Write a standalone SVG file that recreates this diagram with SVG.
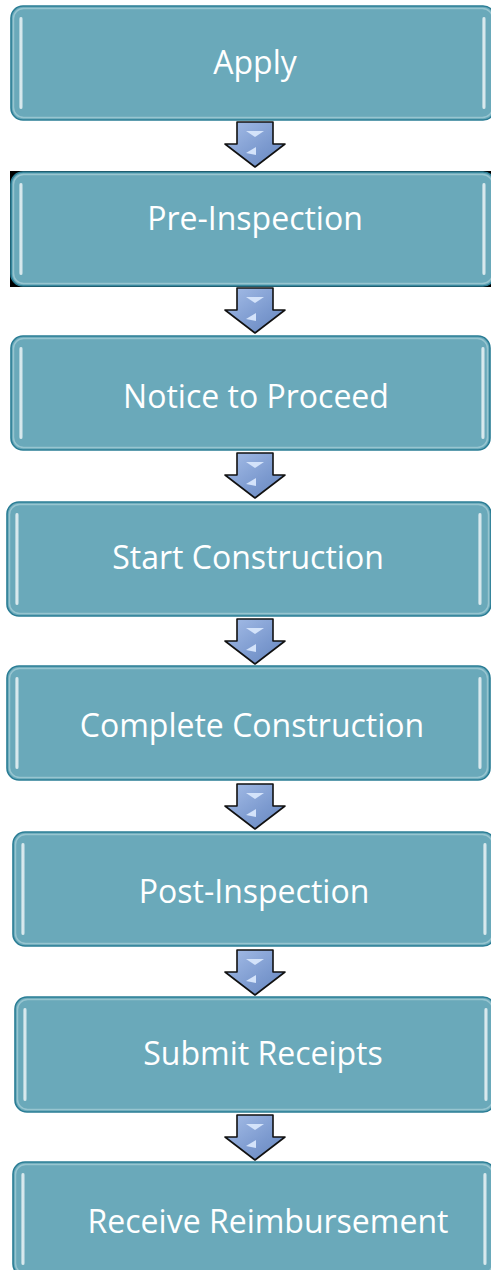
<svg xmlns="http://www.w3.org/2000/svg" width="491" height="1270" viewBox="0 0 491 1270">
<defs>
<linearGradient id="barG" x1="0" y1="0" x2="1" y2="0">
<stop offset="0" stop-color="#ffffff" stop-opacity="0.3"/>
<stop offset="0.5" stop-color="#ffffff" stop-opacity="0.9"/>
<stop offset="1" stop-color="#ffffff" stop-opacity="0.2"/>
</linearGradient>
<linearGradient id="arrG" x1="0" y1="0" x2="1" y2="1">
<stop offset="0" stop-color="#a6bee8"/>
<stop offset="0.6" stop-color="#7c9acf"/>
<stop offset="1" stop-color="#6585bd"/>
</linearGradient>
<g id="arrow">
<path d="M237,0 H273 V22 H285 L255,45 L225,22 H237 Z" fill="url(#arrG)" stroke="#111" stroke-width="1.6" stroke-linejoin="round"/>
<path d="M246,9 H264 L255,15 Z" fill="#d4e3fa"/>
<path d="M256,25 V33 L246,31 Z" fill="#d4e3fa"/>
</g>
</defs>
<style>
.box{fill:#6aa9ba;stroke:#2a7d95;stroke-width:1.6}
.hl{fill:none;stroke:#cfe6ec;stroke-width:1.5;stroke-opacity:0.45}
.bar{fill:url(#barG)}
.lbl{font-family:"Open Sans","Noto Sans",sans-serif;font-size:32px;fill:#ffffff;text-anchor:middle}
</style>
<rect x="10" y="171" width="481" height="116" fill="#000"/>
<g id="connectors">
<use href="#arrow" transform="translate(0,122)"/>
<use href="#arrow" transform="translate(0,288)"/>
<use href="#arrow" transform="translate(0,453)"/>
<use href="#arrow" transform="translate(0,619)"/>
<use href="#arrow" transform="translate(0,784)"/>
<use href="#arrow" transform="translate(0,950)"/>
<use href="#arrow" transform="translate(0,1115)"/>
</g>
<g id="n1">
<rect class="box" x="11" y="6" width="484" height="114" rx="12"/>
<rect class="hl" x="13.5" y="8.5" width="479" height="109" rx="10"/>
<rect class="bar" x="19" y="17" width="4" height="92" rx="2"/>
<rect class="bar" x="482" y="17" width="4" height="92" rx="2"/>
<text class="lbl" x="255" y="74">Apply</text>
</g>
<g id="n2">
<rect class="box" x="11" y="172" width="484" height="114" rx="12"/>
<rect class="hl" x="13.5" y="174.5" width="479" height="109" rx="10"/>
<rect class="bar" x="19" y="183" width="4" height="92" rx="2"/>
<rect class="bar" x="482" y="183" width="4" height="92" rx="2"/>
<text class="lbl" x="255" y="230">Pre-Inspection</text>
</g>
<g id="n3">
<rect class="box" x="11" y="336" width="479" height="114" rx="12"/>
<rect class="hl" x="13.5" y="338.5" width="474" height="109" rx="10"/>
<rect class="bar" x="19" y="347" width="4" height="92" rx="2"/>
<rect class="bar" x="481" y="347" width="4" height="92" rx="2"/>
<text class="lbl" x="256" y="408">Notice to Proceed</text>
</g>
<g id="n4">
<rect class="box" x="7" y="502" width="484" height="114" rx="12"/>
<rect class="hl" x="9.5" y="504.5" width="479" height="109" rx="10"/>
<rect class="bar" x="15" y="513" width="4" height="92" rx="2"/>
<rect class="bar" x="478" y="513" width="4" height="92" rx="2"/>
<text class="lbl" x="248" y="569">Start Construction</text>
</g>
<g id="n5">
<rect class="box" x="7" y="666" width="483" height="114" rx="12"/>
<rect class="hl" x="9.5" y="668.5" width="478" height="109" rx="10"/>
<rect class="bar" x="15" y="677" width="4" height="92" rx="2"/>
<rect class="bar" x="478" y="677" width="4" height="92" rx="2"/>
<text class="lbl" x="252" y="737">Complete Construction</text>
</g>
<g id="n6">
<rect class="box" x="13" y="832" width="482" height="114" rx="12"/>
<rect class="hl" x="15.5" y="834.5" width="477" height="109" rx="10"/>
<rect class="bar" x="21" y="843" width="4" height="92" rx="2"/>
<rect class="bar" x="483" y="843" width="4" height="92" rx="2"/>
<text class="lbl" x="254" y="903">Post-Inspection</text>
</g>
<g id="n7">
<rect class="box" x="15" y="997" width="480" height="115" rx="12"/>
<rect class="hl" x="17.5" y="999.5" width="475" height="110" rx="10"/>
<rect class="bar" x="23" y="1008" width="4" height="93" rx="2"/>
<rect class="bar" x="484" y="1008" width="4" height="93" rx="2"/>
<text class="lbl" x="263" y="1065">Submit Receipts</text>
</g>
<g id="n8">
<rect class="box" x="13" y="1162" width="482" height="114" rx="12"/>
<rect class="hl" x="15.5" y="1164.5" width="477" height="109" rx="10"/>
<rect class="bar" x="21" y="1173" width="4" height="92" rx="2"/>
<rect class="bar" x="483" y="1173" width="4" height="92" rx="2"/>
<text class="lbl" x="268" y="1233">Receive Reimbursement</text>
</g>
</svg>
